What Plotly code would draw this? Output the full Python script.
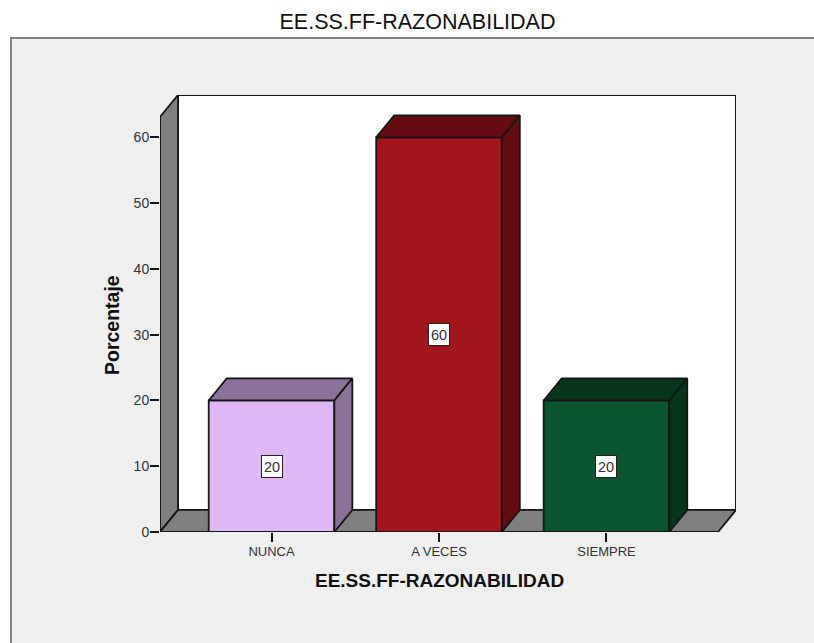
import numpy as np
import plotly.graph_objects as go

# values
categories = ['NUNCA', 'A VECES', 'SIEMPRE']
percentages = [20, 60, 20]
y_ticks = [0, 10, 20, 30, 40, 50, 60]
chart_title = 'EE.SS.FF-RAZONABILIDAD'
y_title = 'Porcentaje'

# bar faces
front_colors = ['#DEB8F4', '#A2151A', '#0B5630']
top_colors = ['#8B7199', '#640C10', '#06351C']
side_colors = ['#8B7199', '#640C10', '#06351C']

bar_width = 0.75
x_min, x_max = -0.666, 2.666
y_top = 63.1
depth_x = 0.1075   # 3D offset, in category units
depth_y = 3.35     # 3D offset, in percent units
edge = '#151515'
wall = '#7F7F7F'
line_w = 1.8

fig = go.Figure()
xs = np.arange(len(categories))

fig.add_trace(go.Bar(
    x=xs, y=percentages, width=bar_width,
    marker=dict(color=front_colors, line=dict(color=edge, width=line_w)),
    showlegend=False, hoverinfo='skip'
))

# top and side faces of each bar
for x, v, top, side in zip(xs, percentages, top_colors, side_colors):
    l, r = x - bar_width / 2, x + bar_width / 2
    fig.add_trace(go.Scatter(
        x=[l, l + depth_x, r + depth_x, r, l],
        y=[v, v + depth_y, v + depth_y, v, v],
        mode='lines', fill='toself', fillcolor=top,
        line=dict(color=edge, width=line_w), showlegend=False, hoverinfo='skip'
    ))
    fig.add_trace(go.Scatter(
        x=[r, r + depth_x, r + depth_x, r, r],
        y=[v, v + depth_y, depth_y, 0, v],
        mode='lines', fill='toself', fillcolor=side,
        line=dict(color=edge, width=line_w), showlegend=False, hoverinfo='skip'
    ))

# front axis lines
fig.add_trace(go.Scatter(
    x=[x_min, x_min, x_max], y=[y_top, 0, 0],
    mode='lines', line=dict(color=edge, width=line_w), cliponaxis=False,
    showlegend=False, hoverinfo='skip'
))
# top and right edge of the back wall, would be clipped as a shape
fig.add_trace(go.Scatter(
    x=[x_min + depth_x, x_max + depth_x, x_max + depth_x], y=[y_top + depth_y, y_top + depth_y, depth_y],
    mode='lines', line=dict(color=edge, width=line_w), cliponaxis=False,
    showlegend=False, hoverinfo='skip'
))


def poly(pts):
    return 'M ' + ' L '.join('{} {}'.format(a, b) for a, b in pts) + ' Z'


shapes = [
    # grey panel behind the chart
    dict(type='rect', xref='paper', yref='paper', layer='below',
         x0=(11 - 160) / 576, x1=(830 - 160) / 576, y0=(532 - 660) / 437, y1=(532 - 38) / 437,
         fillcolor='#EFEFEF', line=dict(color='#808080', width=2)),
    # back wall
    dict(type='rect', xref='x', yref='y', layer='below',
         x0=x_min + depth_x, x1=x_max + depth_x, y0=depth_y, y1=y_top + depth_y,
         fillcolor='white', line=dict(color=edge, width=line_w)),
    # left wall
    dict(type='path', xref='x', yref='y', layer='below',
         path=poly([(x_min, 0), (x_min + depth_x, depth_y), (x_min + depth_x, y_top + depth_y), (x_min, y_top)]),
         fillcolor=wall, line=dict(color=edge, width=line_w)),
    # floor
    dict(type='path', xref='x', yref='y', layer='below',
         path=poly([(x_min, 0), (x_min + depth_x, depth_y), (x_max + depth_x, depth_y), (x_max, 0)]),
         fillcolor=wall, line=dict(color=edge, width=line_w)),
]

# value labels in the middle of the bars
annotations = [
    dict(x=x, y=v / 2, text=str(v), showarrow=False,
         font=dict(size=14.5, color='#333333'), width=18, height=19,
         bgcolor='white', bordercolor='#222222', borderwidth=1, borderpad=1)
    for x, v in zip(xs, percentages)
]
# axis titles
annotations.append(dict(xref='x', yref='paper', x=1, y=(532 - 580) / 437, text='<b>' + chart_title + '</b>',
                        xanchor='center', yanchor='middle',
                        showarrow=False, font=dict(size=19, color='#111111')))
annotations.append(dict(xref='paper', yref='paper', x=(112 - 160) / 576, y=(532 - 325) / 437,
                        text='<b>' + y_title + '</b>', xanchor='center', yanchor='middle',
                        textangle=-90, showarrow=False, font=dict(size=19.5, color='#111111')))

fig.update_layout(
    width=814, height=643,
    margin=dict(l=160, r=78, t=95, b=111),
    paper_bgcolor='white', plot_bgcolor='rgba(0,0,0,0)',
    font_family='Liberation Sans',
    title=dict(text=chart_title, x=417.5 / 814, xanchor='center', y=1 - 21 / 643, yanchor='middle',
               font=dict(size=21.5, color='#111111')),
    shapes=shapes, annotations=annotations, showlegend=False,
)
fig.update_xaxes(range=[x_min, x_max + depth_x], tickmode='array', tickvals=xs, ticktext=categories,
                 ticks='outside', ticklen=9, tickcolor=edge, tickwidth=1.5, ticklabelstandoff=-2,
                 tickfont=dict(size=13, color='#333333'), showgrid=False, zeroline=False, showline=False)
fig.update_yaxes(range=[0, y_top + depth_y], tickmode='array', tickvals=y_ticks,
                 ticks='outside', ticklen=9, tickcolor=edge, tickwidth=1.5, ticklabelstandoff=-2,
                 tickfont=dict(size=14, color='#333333'), showgrid=False, zeroline=False, showline=False)

fig.write_html("out.html", config=dict(displayModeBar=False), post_script="document.body.style.margin='0';")
